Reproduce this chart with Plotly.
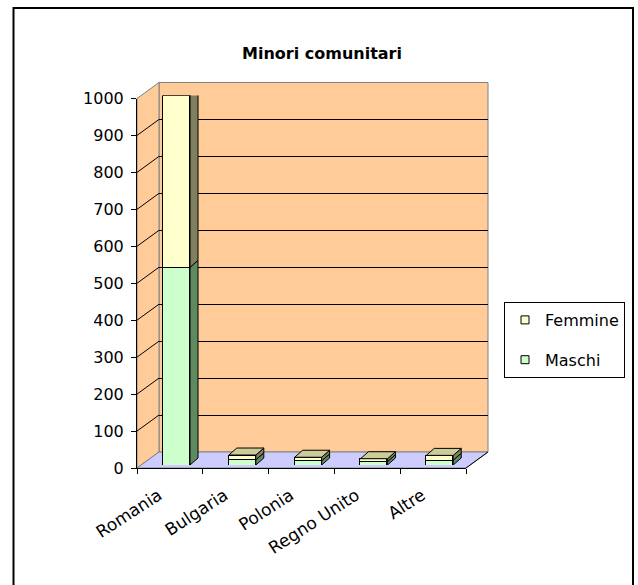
import plotly.graph_objects as go

# ---------------- data ----------------
categories = ["Romania", "Bulgaria", "Polonia", "Regno Unito", "Altre"]
maschi = [535, 14, 11, 9, 13]
femmine = [465, 13, 10, 8, 13]
y_ticks = [0, 100, 200, 300, 400, 500, 600, 700, 800, 900, 1000]
title_text = "Minori comunitari"
series_names = ["Femmine", "Maschi"]

# ---------------- geometry / style ----------------
W, H = 638, 585
FONT = "DejaVu Sans"
C_FEM, C_FEM_SIDE, C_TOP = "#FFFFCC", "#808060", "#CCCC99"
C_MAS, C_MAS_SIDE = "#CCFFCC", "#5F8A60"
C_WALL, C_FLOOR, C_EDGE = "#FFCC99", "#CCCCFF", "#808080"

FX0, FX1 = 137, 466      # front plane x extent (px)
FY0, FY1 = 468, 98.5     # front plane y pixel of 0 and of max
DX, DY = 22, -16         # depth offset of back wall (px)
BSX, BSY = 4, -3         # plane where bar front faces sit (px)
YMAX = y_ticks[-1]
n = len(categories)
BAR_W, BAR_OFF = 0.41, -0.165
LABEL_SHIFT = -0.17      # rotated labels sit a little left of the category centre
cat_px = (FX1 - FX0) / n
val_px = (FY0 - FY1) / YMAX
BDX = 8 / cat_px         # bar depth in category units
BDY = 7 / val_px         # bar depth in value units


def px(x):
    return x / W


def py(y):
    return 1 - y / H


def ppath(pts):
    return "M" + " L".join(f"{px(a):.5f},{py(b):.5f}" for a, b in pts) + " Z"


fig = go.Figure()

# stacked front faces
fig.add_trace(go.Bar(x=list(range(n)), y=maschi, name=series_names[1], xaxis="x3", yaxis="y3",
                     width=BAR_W, offset=BAR_OFF, showlegend=False, hoverinfo="skip",
                     marker=dict(color=C_MAS, line=dict(color="black", width=1))))
fig.add_trace(go.Bar(x=list(range(n)), y=femmine, name=series_names[0], xaxis="x3", yaxis="y3",
                     width=BAR_W, offset=BAR_OFF, showlegend=False, hoverinfo="skip",
                     marker=dict(color=C_FEM, line=dict(color="black", width=1))))

# legend entries (on the front axes so that they get drawn)
fig.add_trace(go.Scatter(x=[None], y=[None], mode="markers", name=series_names[0],
                         legendgroup="f", xaxis="x", yaxis="y",
                         marker=dict(symbol="square", size=8, color=C_FEM,
                                     line=dict(color="black", width=1))))
fig.add_trace(go.Scatter(x=[None], y=[None], mode="markers", name=series_names[1],
                         legendgroup="m", xaxis="x", yaxis="y",
                         marker=dict(symbol="square", size=8, color=C_MAS,
                                     line=dict(color="black", width=1))))
# empty trace so the back-wall axes (gridlines) are drawn
fig.add_trace(go.Scatter(x=[None], y=[None], mode="markers", showlegend=False,
                         xaxis="x2", yaxis="y2", hoverinfo="skip"))

shapes = []
# outer frame
shapes.append(dict(type="rect", xref="paper", yref="paper", x0=px(13.5), x1=px(633), y0=py(620), y1=py(8),
                   line=dict(color="black", width=2), fillcolor="rgba(0,0,0,0)", layer="above"))
# back wall
shapes.append(dict(type="rect", xref="paper", yref="paper", layer="below",
                   x0=px(FX0 + DX), x1=px(FX1 + DX), y0=py(FY0 + DY), y1=py(FY1 + DY),
                   fillcolor=C_WALL, line=dict(color=C_EDGE, width=1)))
# left wall
shapes.append(dict(type="path", xref="paper", yref="paper", layer="below",
                   path=ppath([(FX0, FY0), (FX0, FY1), (FX0 + DX, FY1 + DY), (FX0 + DX, FY0 + DY)]),
                   fillcolor=C_WALL, line=dict(color=C_EDGE, width=1)))
# floor
shapes.append(dict(type="path", xref="paper", yref="paper", layer="below",
                   path=ppath([(FX0, FY0), (FX1, FY0), (FX1 + DX, FY0 + DY), (FX0 + DX, FY0 + DY)]),
                   fillcolor=C_FLOOR, line=dict(color=C_EDGE, width=1)))
shapes.append(dict(type="line", xref="paper", yref="paper", layer="below",
                   x0=px(FX1), y0=py(FY0), x1=px(FX1 + DX), y1=py(FY0 + DY),
                   line=dict(color="black", width=1)))
# left-wall gridlines
for v in y_ticks[1:-1]:
    yv = FY0 + (FY1 - FY0) * v / YMAX
    shapes.append(dict(type="line", xref="paper", yref="paper", layer="below",
                       x0=px(FX0), y0=py(yv), x1=px(FX0 + DX), y1=py(yv + DY),
                       line=dict(color="black", width=1)))

# 3D sides / tops of bars, derived from the data
for i in range(n):
    xl = i + BAR_OFF
    xr = xl + BAR_W
    segs = [(0, maschi[i], C_MAS_SIDE), (maschi[i], maschi[i] + femmine[i], C_FEM_SIDE)]
    for y0, y1, col in segs:
        shapes.append(dict(type="path", xref="x3", yref="y3", layer="above",
                           path=f"M{xr},{y0} L{xr + BDX},{y0 + BDY} L{xr + BDX},{y1 + BDY} L{xr},{y1} Z",
                           fillcolor=col, line=dict(color="black", width=1)))
    top = maschi[i] + femmine[i]
    shapes.append(dict(type="path", xref="x3", yref="y3", layer="above",
                       path=f"M{xl},{top} L{xl + BDX},{top + BDY} L{xr + BDX},{top + BDY} L{xr},{top} Z",
                       fillcolor=C_TOP, line=dict(color="black", width=1)))

tickfont = dict(family=FONT, size=16, color="black")
fig.update_layout(
    width=W, height=H, autosize=False,
    margin=dict(l=0, r=0, t=0, b=0, autoexpand=False),
    paper_bgcolor="white", plot_bgcolor="rgba(0,0,0,0)",
    barmode="stack", bargap=0,
    title=dict(text=title_text, x=px(322), y=py(53), xref="paper", yref="paper",
               xanchor="center", yanchor="middle", automargin=False,
               font=dict(family=FONT, size=16, color="black", weight="bold")),
    showlegend=True,
    legend=dict(x=px(504), y=py(302), xanchor="left", yanchor="top",
                bordercolor="black", borderwidth=1, bgcolor="white",
                font=dict(family=FONT, size=16, color="black"),
                traceorder="grouped", tracegroupgap=16),
    xaxis=dict(domain=[px(FX0), px(FX1)], range=[-0.5, n - 0.5], anchor="y", automargin=False,
               tickmode="array", tickvals=[i + LABEL_SHIFT for i in range(n)], ticktext=categories,
               ticks="", tickangle=-33, tickfont=dict(family=FONT, size=17, color="black"),
               ticklabelstandoff=10,
               showline=True, linecolor="black", linewidth=1, showgrid=False, zeroline=False,
               minor=dict(tickmode="array", tickvals=[i - 0.5 for i in range(n + 1)],
                          ticks="outside", ticklen=5, tickcolor="black", showgrid=False),
               fixedrange=True),
    yaxis=dict(domain=[py(FY0), py(FY1)], range=[0, YMAX], anchor="x", automargin=False,
               tickmode="array", tickvals=y_ticks, ticks="outside", ticklen=5,
               tickcolor="black", tickfont=tickfont, ticklabelstandoff=4,
               showline=True, linecolor="black", linewidth=1, showgrid=False, zeroline=False,
               fixedrange=True),
    xaxis2=dict(domain=[px(FX0 + DX), px(FX1 + DX)], range=[-0.5, n - 0.5], anchor="y2",
                automargin=False, showticklabels=False, ticks="", showgrid=False,
                zeroline=False, showline=False, fixedrange=True),
    yaxis2=dict(domain=[py(FY0 + DY), py(FY1 + DY)], range=[0, YMAX], anchor="x2",
                automargin=False, tickmode="array", tickvals=y_ticks[1:-1],
                showticklabels=False, ticks="",
                showgrid=True, gridcolor="black", gridwidth=1, zeroline=False, showline=False,
                fixedrange=True),
    xaxis3=dict(domain=[px(FX0 + BSX), px(FX1 + BSX)], range=[-0.5, n - 0.5], anchor="y3",
                automargin=False, visible=False, fixedrange=True),
    yaxis3=dict(domain=[py(FY0 + BSY), py(FY1 + BSY)], range=[0, YMAX], anchor="x3",
                automargin=False, visible=False, fixedrange=True),
    shapes=shapes,
)

fig.write_html("out.html", post_script="document.body.style.margin='0';",
               config={"displayModeBar": False})
